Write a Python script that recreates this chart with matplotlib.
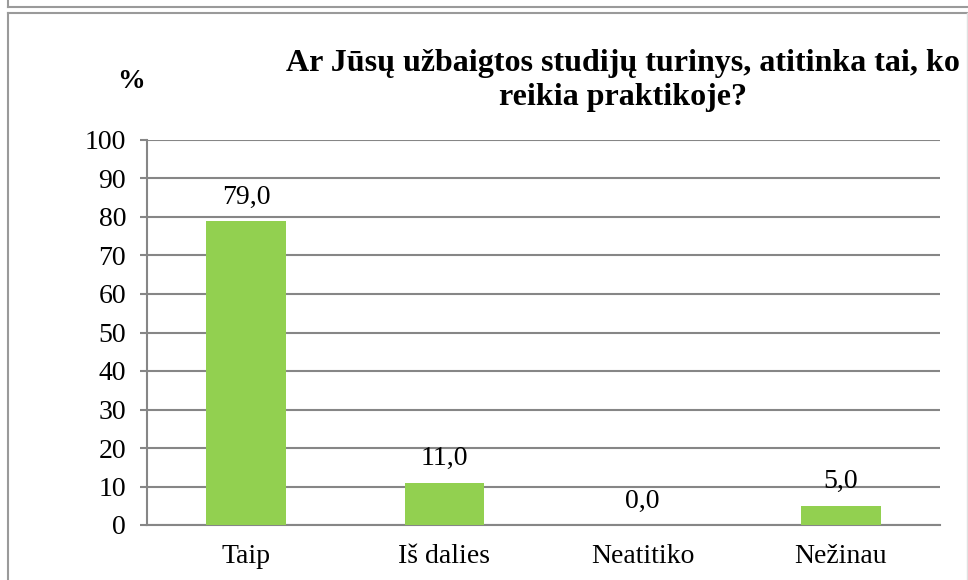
import matplotlib
matplotlib.use("Agg")
import matplotlib.pyplot as plt
from matplotlib.lines import Line2D

categories = ["Taip", "Iš dalies", "Neatitiko", "Nežinau"]
values = [79.0, 11.0, 0.0, 5.0]
yticks = [0, 10, 20, 30, 40, 50, 60, 70, 80, 90, 100]
title = "Ar Jūsų užbaigtos studijų turinys, atitinka tai, ko\nreikia praktikoje?"

plt.rcParams["font.family"] = ["Liberation Serif", "DejaVu Serif"]
GRID = "#868686"
W, H = 968, 580

fig = plt.figure(figsize=(W/100, H/100), dpi=100)
ax = fig.add_axes([147/W, 1-525/H, (940-147)/W, (525-140)/H])

x = range(len(categories))
ax.bar(x, values, width=0.4, color="#92D050", zorder=3)
for i, v in zip(x, values):
    ax.annotate(("%.1f" % v).replace(".", ","), (i, v), xytext=(0, 12.5),
                textcoords="offset points", ha="center", va="baseline", fontsize=20)

ax.set_xlim(-0.5, len(categories)-0.5)
ax.set_ylim(0, 100)
ax.set_yticks(yticks)
ax.set_xticks(list(x))
ax.set_xticklabels(categories)
ax.yaxis.grid(True, color=GRID, lw=1.5, zorder=0)
ax.tick_params(axis="y", length=5, width=1.5, color=GRID, pad=10, labelsize=20)
ax.tick_params(axis="x", length=0, pad=14, labelsize=20)
for s in ["top", "right"]:
    ax.spines[s].set_visible(False)
for s in ["left", "bottom"]:
    ax.spines[s].set_color(GRID)
    ax.spines[s].set_linewidth(1.5)

fig.text(623/W, 1-49/H, title, ha="center", va="top", fontsize=23,
         fontweight="bold", linespacing=1.22)
fig.text(131/W, 1-82/H, "%", ha="center", va="center", fontsize=20, fontweight="bold")

# page frame lines
fc = "#9a9a9a"
fig.add_artist(Line2D([8/W, 1], [1-7/H, 1-7/H], color=fc, lw=1.5, transform=fig.transFigure))
fig.add_artist(Line2D([8/W, 8/W], [1-7/H, 1], color=fc, lw=1.5, transform=fig.transFigure))
fig.add_artist(Line2D([8/W, 1], [1-12.5/H, 1-12.5/H], color=fc, lw=1.5, transform=fig.transFigure))
fig.add_artist(Line2D([8/W, 8/W], [0, 1-12.5/H], color=fc, lw=1.5, transform=fig.transFigure))
fig.add_artist(Line2D([966.5/W, 966.5/W], [0, 1-12.5/H], color="#e0e0e0", lw=1, transform=fig.transFigure))

fig.savefig("out.png", dpi=100)
